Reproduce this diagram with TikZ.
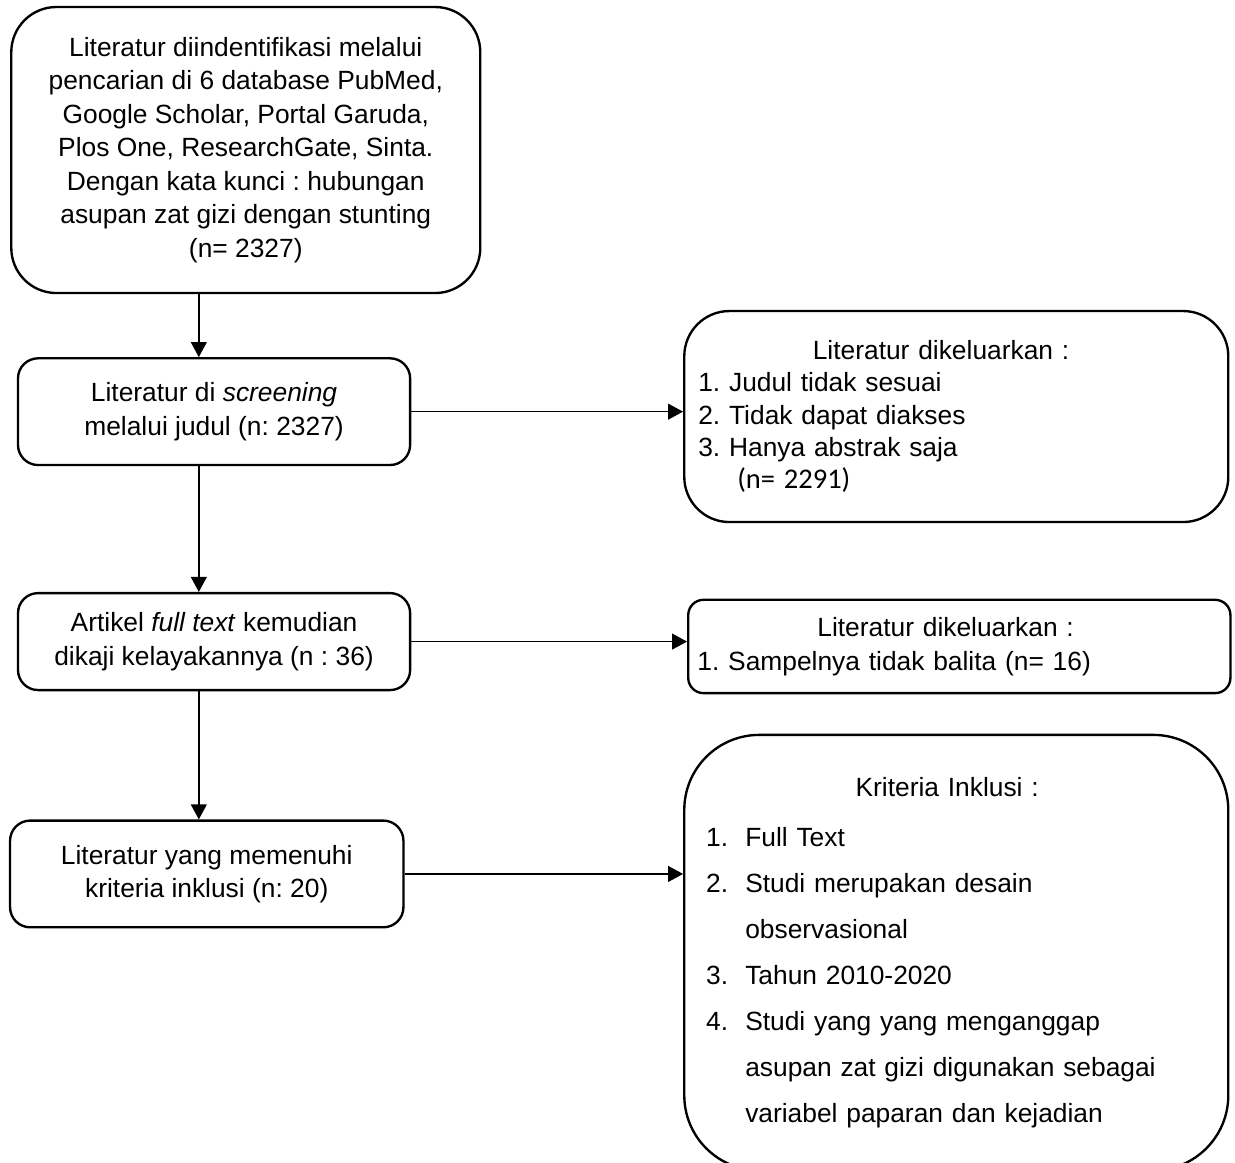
\documentclass[tikz,border=0pt]{standalone}
\usepackage{fontspec}
\setmainfont{Liberation Sans}
\newfontfamily\calibri{Carlito}
\frenchspacing
\usetikzlibrary{arrows.meta}
\tikzstyle{kotak}=[draw, line width=1.1pt, rounded corners=0.33cm, align=center, inner sep=0pt, font=\fontsize{12.3}{15.6}\selectfont]
\tikzstyle{panah}=[line width=0.65pt, -{Triangle[length=7pt,width=7.4pt]}]

\begin{document}
\begin{tikzpicture}
    \useasboundingbox (0,0) rectangle (20.25,-19.06);
    \coordinate (spine) at (3.26,0);
    % Kotak kiri
    \node[kotak, rounded corners=0.74cm, minimum width=7.69cm, minimum height=4.69cm] (cari) at (4.03,-2.46) {Literatur diindentifikasi melalui\\ pencarian di 6 database PubMed,\\ Google Scholar, Portal Garuda,\\ Plos One, ResearchGate, Sinta.\\ Dengan kata kunci : hubungan\\ asupan zat gizi dengan stunting\\ (n= 2327)};
    \node[kotak, minimum width=6.43cm, minimum height=1.75cm] (skrining) at (3.51,-6.75) {Literatur di \textit{screening}\\ melalui judul (n: 2327)};
    \node[kotak, minimum width=6.43cm, minimum height=1.59cm] (kaji) at (3.51,-10.52) {Artikel \textit{full text} kemudian\\ dikaji kelayakannya (n : 36)};
    \node[kotak, minimum width=6.45cm, minimum height=1.75cm] (inklusi) at (3.39,-14.33) {Literatur yang memenuhi\\ kriteria inklusi (n: 20)};
    % Kotak kanan
    \node[kotak, rounded corners=0.74cm, minimum width=8.92cm, minimum height=3.46cm, text width=8.46cm, align=left, font=\fontsize{12.3}{15.1}\selectfont] (keluar1) at (15.68,-6.83) {\makebox[8.46cm]{Literatur dikeluarkan :\hspace{0.5cm}}\\ 1. Judul tidak sesuai\\ 2. Tidak dapat diakses\\ 3. Hanya abstrak saja\\ \hspace*{0.64cm}{\calibri\fontsize{13.3}{15.1}\selectfont (n= 2291)}};
    \node[kotak, rounded corners=0.25cm, minimum width=8.89cm, minimum height=1.53cm, text width=8.59cm, align=left] (keluar2) at (15.73,-10.60) {\makebox[8.59cm]{Literatur dikeluarkan :\hspace{0.45cm}}\\ 1. Sampelnya tidak balita (n= 16)};
    \node[kotak, rounded corners=1.23cm, minimum width=8.92cm, minimum height=7.14cm, text width=8.2cm, align=left, font=\fontsize{12.3}{21.4}\selectfont] (kriteria) at (15.68,-15.62) {\makebox[8.2cm]{Kriteria Inklusi :\hspace{0.3cm}}\\[2pt]
        \makebox[0.64cm][l]{1.}Full Text\\
        \makebox[0.64cm][l]{2.}Studi merupakan desain\\
        \hspace*{0.64cm}observasional\\
        \makebox[0.64cm][l]{3.}Tahun 2010-2020\\
        \makebox[0.64cm][l]{4.}Studi yang yang menganggap\\
        \hspace*{0.64cm}asupan zat gizi digunakan sebagai\\
        \hspace*{0.64cm}variabel paparan dan kejadian};
    % Panah
    \draw[panah] (cari.south -| spine) -- (skrining.north -| spine);
    \draw[panah] (skrining.south -| spine) -- (kaji.north -| spine);
    \draw[panah] (kaji.south -| spine) -- (inklusi.north -| spine);
    \draw[panah] (skrining.east) -- (skrining.east -| keluar1.west);
    \draw[panah] (kaji.east) -- (kaji.east -| keluar2.west);
    \draw[panah] (inklusi.east) -- (inklusi.east -| kriteria.west);
\end{tikzpicture}
\end{document}
